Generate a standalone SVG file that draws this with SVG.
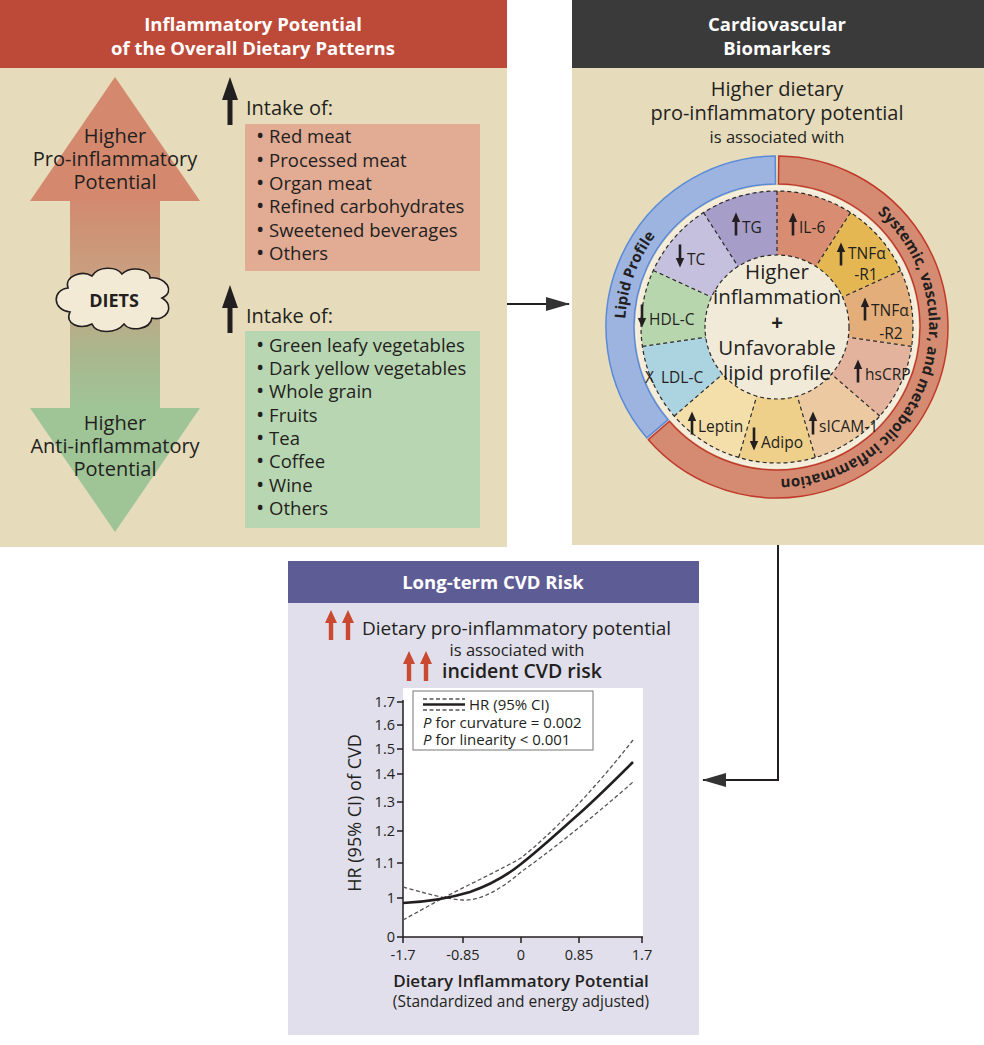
<svg xmlns="http://www.w3.org/2000/svg" xmlns:xlink="http://www.w3.org/1999/xlink" width="984" height="1045" viewBox="0 0 984 1045">
<style>
  .t { font-family: "Open Sans", "Noto Sans", "DejaVu Sans", sans-serif; fill: #231f20; }
  .b { font-weight: 700; }
  .sb { font-weight: 600; }
  .hd { font-family: "Open Sans", "Noto Sans", sans-serif; font-weight: 700; font-size: 18.5px; fill: #ffffff; text-anchor: middle; }
  .c { text-anchor: middle; }
  .li { font-size: 18.5px; }
  .bu { font-size: 22px; }
  .seg { font-size: 15.5px; }
  .dash { fill: none; stroke: #2a2a2a; stroke-width: 1.2; stroke-dasharray: 4 3; }
  .conn { fill: none; stroke: #231f20; stroke-width: 2; }
  .ring { font-family: "Open Sans", "Noto Sans", sans-serif; font-weight: 700; font-size: 15.2px; fill: #231f20; }
  .tick { font-size: 14.5px; }
  .ci { fill: none; stroke: #555; stroke-width: 1.3; stroke-dasharray: 4 2.5; }
</style>
<defs>
  <linearGradient id="shaft" x1="0" y1="200" x2="0" y2="410" gradientUnits="userSpaceOnUse">
    <stop offset="0" stop-color="#d28a6f"/>
    <stop offset="0.45" stop-color="#c6a584"/>
    <stop offset="0.72" stop-color="#aab68d"/>
    <stop offset="1" stop-color="#9fc597"/>
  </linearGradient>
  <path id="up" d="M0,-11.5 L4.2,-2 L1.3,-2 L1.3,11.5 L-1.3,11.5 L-1.3,-2 L-4.2,-2 Z" fill="#231f20"/>
  <path id="down" d="M0,11.5 L4.2,2 L1.3,2 L1.3,-11.5 L-1.3,-11.5 L-1.3,2 L-4.2,2 Z" fill="#231f20"/>
  <path id="bigup" d="M0,0 L8,23 L2.5,23 L2.5,48 L-2.5,48 L-2.5,23 L-8,23 Z" fill="#231f20"/>
  <path id="redup" d="M0,0 L6,13 L2.2,13 L2.2,30 L-2.2,30 L-2.2,13 L-6,13 Z" fill="#c94a30"/>
  <marker id="ah2" markerWidth="24" markerHeight="14" refX="23" refY="7" orient="auto" markerUnits="userSpaceOnUse">
    <path d="M0,0 L24,7 L0,14 Z" fill="#333"/>
  </marker>
  <path id="redArc" d="M816.34,180.18 A152,152 0 1 1 712.76,464.76"/>
  <path id="blueArc" d="M645.36,403 A152,152 0 0 1 725.01,184.17"/>
</defs>

<rect x="0" y="0" width="984" height="1045" fill="#ffffff"/>

<!-- Left panel -->
<g id="panel-diet">
  <rect x="0" y="0" width="507" height="547" fill="#e6dcbc"/>
  <rect x="0" y="0" width="507" height="68" fill="#bd4a39"/>
  <text class="hd" x="253" y="31">Inflammatory Potential</text>
  <text class="hd" x="253" y="55">of the Overall Dietary Patterns</text>
</g>

<g id="node-bigarrow">
  <rect x="70" y="199" width="90" height="211" fill="url(#shaft)"/>
  <polygon points="115,77 200,201 30,201" fill="#d4896e"/>
  <polygon points="30,408 200,408 115,532" fill="#9fc597"/>
  <text class="t c" font-size="20" x="115" y="143">Higher</text>
  <text class="t c" font-size="20" x="115" y="166">Pro-inflammatory</text>
  <text class="t c" font-size="20" x="115" y="189">Potential</text>
  <text class="t c" font-size="20" x="115" y="430">Higher</text>
  <text class="t c" font-size="20" x="115" y="453">Anti-inflammatory</text>
  <text class="t c" font-size="20" x="115" y="476">Potential</text>
</g>

<g id="node-diets">
  <path d="M70,312 C52,310 52,290 68,288 C64,276 82,270 92,276 C98,266 116,266 122,274 C130,266 150,268 150,278 C166,276 176,292 162,298 C176,306 166,322 152,318 C150,330 130,332 124,324 C116,334 96,334 92,324 C80,330 64,324 70,312 Z" fill="#f3ead6" stroke="#231f20" stroke-width="1.6"/>
  <text class="t c b" font-size="18" x="114" y="307">DIETS</text>
</g>

<g id="node-pro">
  <use href="#bigup" x="230" y="77"/>
  <text class="t" font-size="20" x="246" y="115">Intake of:</text>
  <rect x="245" y="124" width="235" height="147" fill="#e1ab94"/>
  <text class="t li" x="256" y="143"><tspan class="bu">•</tspan> Red meat</text>
  <text class="t li" x="256" y="167"><tspan class="bu">•</tspan> Processed meat</text>
  <text class="t li" x="256" y="190"><tspan class="bu">•</tspan> Organ meat</text>
  <text class="t li" x="256" y="213"><tspan class="bu">•</tspan> Refined carbohydrates</text>
  <text class="t li" x="256" y="237"><tspan class="bu">•</tspan> Sweetened beverages</text>
  <text class="t li" x="256" y="260"><tspan class="bu">•</tspan> Others</text>
</g>

<g id="node-anti">
  <use href="#bigup" x="230" y="285"/>
  <text class="t" font-size="20" x="246" y="323">Intake of:</text>
  <rect x="245" y="331" width="235" height="197" fill="#b9d6b2"/>
  <text class="t li" x="256" y="352"><tspan class="bu">•</tspan> Green leafy vegetables</text>
  <text class="t li" x="256" y="375"><tspan class="bu">•</tspan> Dark yellow vegetables</text>
  <text class="t li" x="256" y="398"><tspan class="bu">•</tspan> Whole grain</text>
  <text class="t li" x="256" y="422"><tspan class="bu">•</tspan> Fruits</text>
  <text class="t li" x="256" y="445"><tspan class="bu">•</tspan> Tea</text>
  <text class="t li" x="256" y="468"><tspan class="bu">•</tspan> Coffee</text>
  <text class="t li" x="256" y="492"><tspan class="bu">•</tspan> Wine</text>
  <text class="t li" x="256" y="515"><tspan class="bu">•</tspan> Others</text>
</g>

<!-- Right panel -->
<g id="panel-biomarkers">
  <rect x="572" y="0" width="412" height="545" fill="#e6dcbc"/>
  <rect x="572" y="0" width="412" height="68" fill="#3a3a3a"/>
  <text class="hd" x="777" y="31">Cardiovascular</text>
  <text class="hd" x="777" y="55">Biomarkers</text>
  <text class="t c" font-size="20" x="777" y="96">Higher dietary</text>
  <text class="t c" font-size="20" x="777" y="120">pro-inflammatory potential</text>
  <text class="t c" font-size="16.5" x="777" y="143">is associated with</text>
</g>

<g id="node-wheel">
  <path d="M646.78,437.83 A171,171 0 0 1 775.21,156 L775.5,184 A143,143 0 0 0 668.11,419.68 Z" fill="#9db4e0" stroke="#5a8ad8" stroke-width="1.5"/>
  <path d="M778.79,156 A171,171 0 1 1 648.34,439.64 L669.41,421.19 A143,143 0 1 0 778.5,184 Z" fill="#d58b71" stroke="#c0392b" stroke-width="1.5"/>
  <text class="ring"><textPath href="#redArc" startOffset="50%" text-anchor="middle">Systemic, vascular, and metabolic inflammation</textPath></text>
  <text class="ring" style="font-size:15px"><textPath href="#blueArc" startOffset="50%" text-anchor="middle">Lipid Profile</textPath></text>
  <circle cx="777" cy="327" r="141" fill="#f4ecd8" stroke="#fbf6ea" stroke-width="1"/>
  <!-- segments -->
  <path d="M777,191 A136,136 0 0 1 850.52,212.58 L815.92,266.43 A72,72 0 0 0 777,255 Z" fill="#d88d72"/>
  <path d="M850.52,212.58 A136,136 0 0 1 900.71,270.51 L842.49,297.09 A72,72 0 0 0 815.92,266.43 Z" fill="#e4b753"/>
  <path d="M900.71,270.51 A136,136 0 0 1 911.61,346.35 L848.27,337.25 A72,72 0 0 0 842.49,297.09 Z" fill="#e4ae7a"/>
  <path d="M911.61,346.35 A136,136 0 0 1 879.78,416.07 L831.41,374.15 A72,72 0 0 0 848.27,337.25 Z" fill="#e4b39e"/>
  <path d="M879.78,416.07 A136,136 0 0 1 815.31,457.49 L797.28,396.08 A72,72 0 0 0 831.41,374.15 Z" fill="#ecc9a0"/>
  <path d="M815.31,457.49 A136,136 0 0 1 738.69,457.49 L756.72,396.08 A72,72 0 0 0 797.28,396.08 Z" fill="#eed08a"/>
  <path d="M738.69,457.49 A136,136 0 0 1 674.22,416.07 L722.59,374.15 A72,72 0 0 0 756.72,396.08 Z" fill="#f4dfaa"/>
  <path d="M674.22,416.07 A136,136 0 0 1 642.39,346.35 L705.73,337.25 A72,72 0 0 0 722.59,374.15 Z" fill="#acd3e0"/>
  <path d="M642.39,346.35 A136,136 0 0 1 653.29,270.51 L711.51,297.09 A72,72 0 0 0 705.73,337.25 Z" fill="#b8d6ae"/>
  <path d="M653.29,270.51 A136,136 0 0 1 703.48,212.58 L738.08,266.43 A72,72 0 0 0 711.51,297.09 Z" fill="#c5c0dd"/>
  <path d="M703.48,212.58 A136,136 0 0 1 777,191 L777,255 A72,72 0 0 0 738.08,266.43 Z" fill="#a69dc9"/>
  <circle cx="777" cy="327" r="72" fill="#f2ead9"/>
  <circle class="dash" cx="777" cy="327" r="136"/>
  <circle class="dash" cx="777" cy="327" r="72"/>
  <path class="dash" d="M777,191 L777,255 M850.52,212.58 L815.92,266.43 M900.71,270.51 L842.49,297.09 M911.61,346.35 L848.27,337.25 M879.78,416.07 L831.41,374.15 M815.31,457.49 L797.28,396.08 M738.69,457.49 L756.72,396.08 M674.22,416.07 L722.59,374.15 M642.39,346.35 L705.73,337.25 M653.29,270.51 L711.51,297.09 M703.48,212.58 L738.08,266.43"/>
  <!-- center text -->
  <text class="t c" font-size="20.5" x="777" y="279">Higher</text>
  <text class="t c" font-size="20.5" x="777" y="304">inflammation</text>
  <text class="t c b" font-size="20.5" x="777" y="330">+</text>
  <text class="t c" font-size="20.5" x="777" y="355">Unfavorable</text>
  <text class="t c" font-size="20.5" x="777" y="380">lipid profile</text>
  <!-- segment labels -->
  <use href="#up" x="736" y="224"/><text class="t seg" x="742" y="233">TG</text>
  <use href="#up" x="793" y="224"/><text class="t seg" x="799" y="233">IL-6</text>
  <use href="#up" x="841" y="254"/><text class="t seg" x="848" y="259">TNFα</text><text class="t seg c" x="866" y="280">-R1</text>
  <use href="#up" x="865" y="309"/><text class="t seg" x="871" y="316">TNFα</text><text class="t seg c" x="891" y="339">-R2</text>
  <use href="#up" x="858" y="371"/><text class="t seg" x="865" y="380">hsCRP</text>
  <use href="#up" x="813" y="423"/><text class="t seg" x="819" y="432">sICAM-1</text>
  <use href="#down" x="754" y="439"/><text class="t seg" x="761" y="448">Adipo</text>
  <use href="#up" x="692" y="423"/><text class="t seg" x="698" y="432">Leptin</text>
  <text class="t seg" x="645" y="383">X</text><text class="t seg" x="661" y="383">LDL-C</text>
  <use href="#down" x="642" y="316"/><text class="t seg" x="649" y="325">HDL-C</text>
  <use href="#down" x="680" y="256"/><text class="t seg" x="687" y="265">TC</text>
</g>

<!-- Bottom panel -->
<g id="panel-cvd">
  <rect x="288" y="561" width="411" height="474" fill="#e1dfec"/>
  <rect x="288" y="561" width="411" height="42" fill="#5e5c94"/>
  <text class="hd" x="493" y="589">Long-term CVD Risk</text>
  <use href="#redup" x="331" y="610"/>
  <use href="#redup" x="348" y="610"/>
  <text class="t" font-size="19" x="362" y="635">Dietary pro-inflammatory potential</text>
  <text class="t c" font-size="16.5" x="517" y="656">is associated with</text>
  <use href="#redup" x="409" y="651"/>
  <use href="#redup" x="426" y="651"/>
  <text class="t sb" font-size="19.5" x="442" y="678">incident CVD risk</text>
</g>

<g id="node-chart">
  <rect x="403" y="688" width="240" height="249" fill="#ffffff"/>
  <path d="M403,700 L403,937 L643,937" fill="none" stroke="#231f20" stroke-width="1.5"/>
  <path d="M397,702 H403 M397,725 H403 M397,749 H403 M397,774 H403 M397,802 H403 M397,831 H403 M397,863 H403 M397,898 H403 M397,937 H403 M403,937 V943 M463,937 V943 M521,937 V943 M579,937 V943 M642,937 V943" stroke="#231f20" stroke-width="1.5" fill="none"/>
  <g class="t tick" text-anchor="end">
    <text x="395" y="707">1.7</text>
    <text x="395" y="730">1.6</text>
    <text x="395" y="754">1.5</text>
    <text x="395" y="779">1.4</text>
    <text x="395" y="807">1.3</text>
    <text x="395" y="836">1.2</text>
    <text x="395" y="868">1.1</text>
    <text x="395" y="903">1</text>
    <text x="395" y="942">0</text>
  </g>
  <g class="t tick" text-anchor="middle">
    <text x="403" y="960">-1.7</text>
    <text x="463" y="960">-0.85</text>
    <text x="521" y="960">0</text>
    <text x="579" y="960">0.85</text>
    <text x="642" y="960">1.7</text>
  </g>
  <text class="t c" font-size="18" transform="translate(361,813) rotate(-90)">HR (95% CI) of CVD</text>
  <text class="t c sb" font-size="17" x="521" y="987">Dietary Inflammatory Potential</text>
  <text class="t c" font-size="15.5" x="521" y="1007">(Standardized and energy adjusted)</text>
  <!-- curves -->
  <path class="ci" d="M403,887 C425,893 445,899 463,900 C480,901 500,890 521,872 C545,855 590,820 633,782"/>
  <path class="ci" d="M403,920 L443,898 C470,884 500,870 521,858 C550,835 590,795 633,740"/>
  <path d="M403,903 C425,902 450,898 470,892 C490,885 505,877 521,864 C545,845 565,826 580,813 C600,795 615,780 633,762" fill="none" stroke="#231f20" stroke-width="2.6"/>
  <!-- legend -->
  <rect x="413" y="691" width="180" height="59" fill="#ffffff" stroke="#777" stroke-width="1"/>
  <path class="ci" d="M423,699 H465 M423,710 H465"/>
  <path d="M423,704.5 H465" stroke="#231f20" stroke-width="2.6"/>
  <text class="t" font-size="15" x="469" y="710">HR (95% CI)</text>
  <text class="t" font-size="15" x="423" y="728"><tspan font-style="italic">P</tspan> for curvature = 0.002</text>
  <text class="t" font-size="15" x="423" y="745"><tspan font-style="italic">P</tspan> for linearity &lt; 0.001</text>
</g>

<g id="connectors">
  <path class="conn" d="M507,304 L569,304" marker-end="url(#ah2)"/>
  <path class="conn" d="M778,545 L778,780 L703,780" marker-end="url(#ah2)"/>
</g>
</svg>
